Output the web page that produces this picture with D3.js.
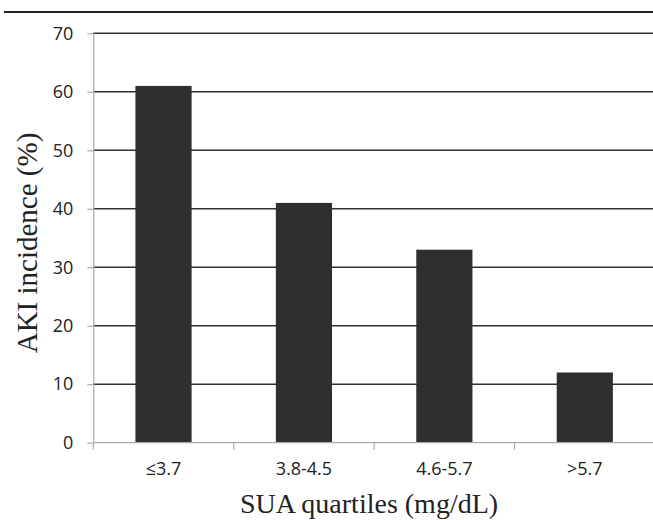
<!DOCTYPE html>
<html>
<head>
<meta charset="utf-8">
<script src="https://cdn.jsdelivr.net/npm/d3@7"></script>
<style>
  html, body { margin: 0; padding: 0; background: #fff; }
  svg { display: block; }
</style>
</head>
<body>
<div id="chart"></div>
<script>
const categories = ["≤3.7", "3.8-4.5", "4.6-5.7", ">5.7"];
const values = [61, 41, 33, 12];
const yTicks = [0, 10, 20, 30, 40, 50, 60, 70];
const xTitle = "SUA quartiles (mg/dL)";
const yTitle = "AKI incidence (%)";

const W = 653, H = 520;
const margin = { left: 93.3, right: -2, top: 33.3, bottom: 77.3 };
const iw = W - margin.left - margin.right;
const ih = H - margin.top - margin.bottom;

const svg = d3.select("#chart").append("svg").attr("width", W).attr("height", H);

// top rule
svg.append("line").attr("x1", 4).attr("x2", W).attr("y1", 12).attr("y2", 12)
  .attr("stroke", "#222").attr("stroke-width", 2);

const g = svg.append("g").attr("transform", `translate(${margin.left},${margin.top})`);

const x = d3.scaleBand().domain(categories).range([0, iw]).paddingInner(0.6).paddingOuter(0.3);
const xb = d3.scaleBand().domain(categories).range([0, iw]);
const y = d3.scaleLinear().domain([0, 70]).range([ih, 0]);

// gridlines
g.selectAll("line.grid").data(yTicks.filter(d => d > 0)).join("line")
  .attr("class", "grid")
  .attr("x1", 0).attr("x2", iw)
  .attr("y1", d => y(d)).attr("y2", d => y(d))
  .attr("stroke", "#333").attr("stroke-width", 1.5);

// bars
g.selectAll("rect.bar").data(values).join("rect")
  .attr("class", "bar")
  .attr("x", (d, i) => x(categories[i]))
  .attr("width", x.bandwidth())
  .attr("y", d => y(d))
  .attr("height", d => ih - y(d))
  .attr("fill", "#302e2f");

// y axis
const yAxis = g.append("g")
  .call(d3.axisLeft(y).tickValues(yTicks).tickSize(6).tickPadding(14).tickSizeOuter(0));
yAxis.select(".domain").attr("stroke", "#aaa").attr("stroke-width", 1.2);
yAxis.selectAll(".tick line").attr("stroke", "#aaa").attr("stroke-width", 1.2);
yAxis.selectAll(".tick text").attr("font-family", "'Open Sans', sans-serif")
  .attr("font-size", 18).attr("fill", "#222");

// x axis
const xAxisG = g.append("g").attr("transform", `translate(0,${ih})`);
xAxisG.append("line").attr("x1", 0).attr("x2", iw).attr("y1", 0).attr("y2", 0)
  .attr("stroke", "#aaa").attr("stroke-width", 1.2);
const bounds = categories.map(c => xb(c)).concat([iw]);
xAxisG.selectAll("line.xt").data(bounds).join("line")
  .attr("class", "xt")
  .attr("x1", d => d).attr("x2", d => d).attr("y1", 0).attr("y2", 7)
  .attr("stroke", "#aaa").attr("stroke-width", 1.2);
xAxisG.selectAll("text.xl").data(categories).join("text")
  .attr("class", "xl")
  .attr("x", d => xb(d) + xb.bandwidth() / 2)
  .attr("y", 32)
  .attr("text-anchor", "middle")
  .attr("font-family", "'Open Sans', sans-serif")
  .attr("font-size", 18).attr("fill", "#222")
  .text(d => d);

// titles
svg.append("text")
  .attr("x", 369).attr("y", 513)
  .attr("text-anchor", "middle")
  .attr("font-family", "'Liberation Serif', 'Times New Roman', serif")
  .attr("font-size", 28).attr("fill", "#222")
  .text(xTitle);

svg.append("text")
  .attr("transform", "translate(37,243) rotate(-90)")
  .attr("text-anchor", "middle")
  .attr("font-family", "'Liberation Serif', 'Times New Roman', serif")
  .attr("font-size", 29).attr("fill", "#222")
  .text(yTitle);
</script>
</body>
</html>
